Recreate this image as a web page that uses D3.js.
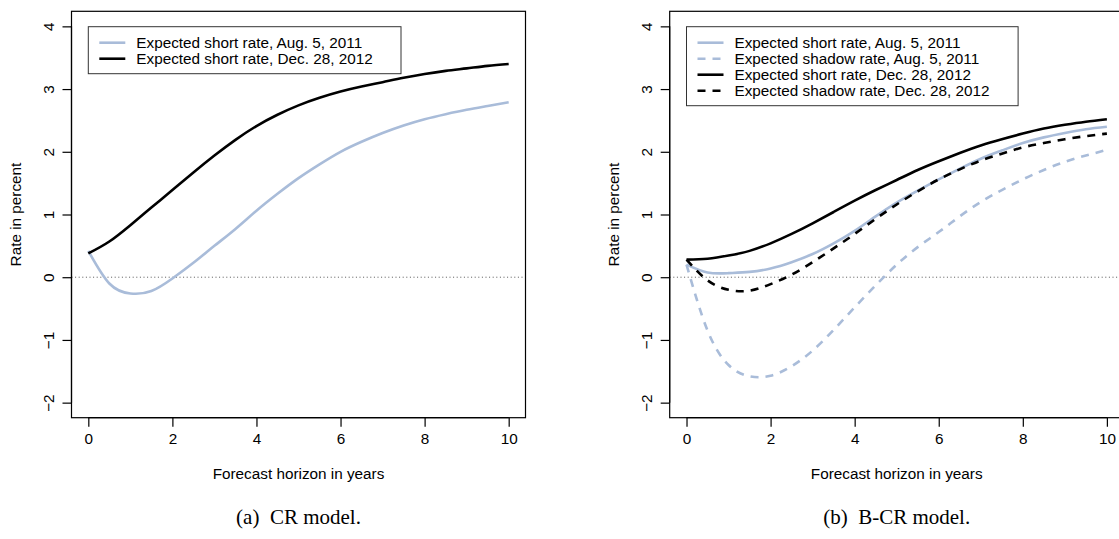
<!DOCTYPE html>
<html><head><meta charset="utf-8">
<script src="https://cdn.jsdelivr.net/npm/d3@7"></script>
<style>body{margin:0;background:#fff}</style>
</head><body>
<svg id="chart" width="1119" height="539"></svg>
<script>
// ---- data ----
const horizon = [0,0.5,1,1.5,2,2.5,3,3.5,4,4.5,5,5.5,6,6.5,7,7.5,8,8.5,9,9.5,10];
const crShortAug  = [0.42,-0.10,-0.26,-0.22,-0.02,0.23,0.50,0.77,1.06,1.33,1.58,1.80,2.00,2.16,2.30,2.42,2.52,2.60,2.67,2.73,2.79];
const crShortDec  = [0.38,0.57,0.83,1.11,1.39,1.67,1.94,2.19,2.41,2.59,2.74,2.86,2.96,3.04,3.11,3.18,3.24,3.29,3.33,3.37,3.40];
const bcrShortAug = [0.20,0.075,0.065,0.085,0.14,0.24,0.37,0.54,0.74,0.97,1.19,1.38,1.56,1.73,1.89,2.02,2.14,2.23,2.30,2.36,2.40];
const bcrShadowAug= [0.20,-0.85,-1.40,-1.58,-1.57,-1.42,-1.17,-0.84,-0.48,-0.13,0.20,0.48,0.72,0.97,1.20,1.39,1.56,1.71,1.84,1.94,2.03];
const bcrShortDec = [0.28,0.295,0.345,0.42,0.54,0.69,0.86,1.04,1.22,1.39,1.55,1.71,1.85,1.98,2.10,2.20,2.29,2.37,2.43,2.48,2.52];
const bcrShadowDec= [0.28,-0.05,-0.20,-0.215,-0.11,0.04,0.24,0.46,0.69,0.93,1.16,1.37,1.56,1.72,1.86,1.97,2.07,2.14,2.20,2.25,2.29];
const xTicks = [0,2,4,6,8,10];
const yTicks = [-2,-1,0,1,2,3,4];
const legendA = ["Expected short rate, Aug. 5, 2011","Expected short rate, Dec. 28, 2012"];
const legendB = ["Expected short rate, Aug. 5, 2011","Expected shadow rate, Aug. 5, 2011","Expected short rate, Dec. 28, 2012","Expected shadow rate, Dec. 28, 2012"];
const captions = ["(a)  CR model.","(b)  B-CR model."];
const xTitle = "Forecast horizon in years";
const yTitle = "Rate in percent";

// ---- styles ----
const BLUE = "#a9bcd9", BLACK = "#000";
const svg = d3.select("#chart");
const font = "Liberation Sans, Arial, Helvetica, sans-serif";

function panel(left, seriesList, legendLabels, caption){
  const W = 454, top = 11.3, H = 406.4;
  const x = d3.scaleLinear().domain([-0.4,10.4]).range([left, left+W]);
  const y = d3.scaleLinear().domain([-2.24,4.24]).range([top+H, top]);
  const g = svg.append("g");
  // zero line
  g.append("line").attr("x1",left).attr("x2",left+W).attr("y1",y(0)).attr("y2",y(0))
    .attr("stroke","#555").attr("stroke-width",1).attr("stroke-dasharray","1,2.6");
  // curves
  const line = d3.line().x((d,i)=>x(horizon[i])).y(d=>y(d)).curve(d3.curveNatural);
  seriesList.forEach(s=>{
    g.append("path").attr("d",line(s.values)).attr("fill","none")
      .attr("stroke",s.color).attr("stroke-width",2.6)
      .attr("stroke-dasharray",s.dash?"8,7":null);
  });
  // box
  g.append("rect").attr("x",left).attr("y",top).attr("width",W).attr("height",H)
    .attr("fill","none").attr("stroke","#000").attr("stroke-width",1.2);
  // axes
  const xa = g.append("g").attr("transform",`translate(0,${top+H})`)
    .call(d3.axisBottom(x).tickValues(xTicks).tickSize(9).tickPadding(6).tickFormat(d3.format("d")));
  xa.select(".domain").attr("d",`M${x(0)},0H${x(10)}`).attr("stroke-width",1.2);
  xa.selectAll("line").attr("stroke-width",1.2);
  xa.selectAll("text").attr("font-family",font).attr("font-size",15.3).attr("fill","#000");
  const ya = g.append("g").attr("transform",`translate(${left},0)`)
    .call(d3.axisLeft(y).tickValues(yTicks).tickSize(9).tickFormat(d=>d<0?"\u2212"+Math.abs(d):String(d)));
  ya.select(".domain").attr("d",`M0,${y(-2)}V${y(4)}`).attr("stroke-width",1.2);
  ya.selectAll("line").attr("stroke-width",1.2);
  ya.selectAll("text").attr("font-family",font).attr("font-size",15.3).attr("fill","#000")
    .attr("x",null).attr("dy",null).attr("text-anchor","middle")
    .attr("transform",d=>`translate(-17.5,0) rotate(-90)`);
  // titles
  g.append("text").attr("x",left+W/2).attr("y",479).attr("text-anchor","middle")
    .attr("font-family",font).attr("font-size",15.3).text(xTitle);
  g.append("text").attr("transform",`translate(${left-50.5},${top+H/2}) rotate(-90)`).attr("text-anchor","middle")
    .attr("font-family",font).attr("font-size",15.3).text(yTitle);
  g.append("text").attr("x",left+W/2).attr("y",524).attr("text-anchor","middle")
    .attr("font-family","Liberation Serif, Times New Roman, serif").attr("font-size",21)
    .attr("xml:space","preserve").style("white-space","pre").text(caption);
  // legend
  const lx = left+16.8, ly = 26.7, rowH = 16;
  const lw = legendLabels.length===2 ? 312.7 : 331.6;
  const lh = rowH*legendLabels.length + 15;
  g.append("rect").attr("x",lx).attr("y",ly).attr("width",lw).attr("height",lh)
    .attr("fill","#fff").attr("stroke","#333").attr("stroke-width",1);
  legendLabels.forEach((lab,i)=>{
    const s = seriesList.find(d=>d.label===lab);
    const yy = ly+16+i*rowH;
    g.append("line").attr("x1",lx+11).attr("x2",lx+37).attr("y1",yy).attr("y2",yy)
      .attr("stroke",s.color).attr("stroke-width",2.6).attr("stroke-dasharray",s.dash?"8,7":null);
    g.append("text").attr("x",lx+48).attr("y",yy+5.3).attr("font-family",font).attr("font-size",15.3).text(lab);
  });
}

panel(71.5, [
  {label:legendA[0], values:crShortAug, color:BLUE, dash:false},
  {label:legendA[1], values:crShortDec, color:BLACK, dash:false}
], legendA, captions[0]);

panel(669.7, [
  {label:legendB[0], values:bcrShortAug, color:BLUE, dash:false},
  {label:legendB[1], values:bcrShadowAug, color:BLUE, dash:true},
  {label:legendB[2], values:bcrShortDec, color:BLACK, dash:false},
  {label:legendB[3], values:bcrShadowDec, color:BLACK, dash:true}
], legendB, captions[1]);
</script>
</body></html>
